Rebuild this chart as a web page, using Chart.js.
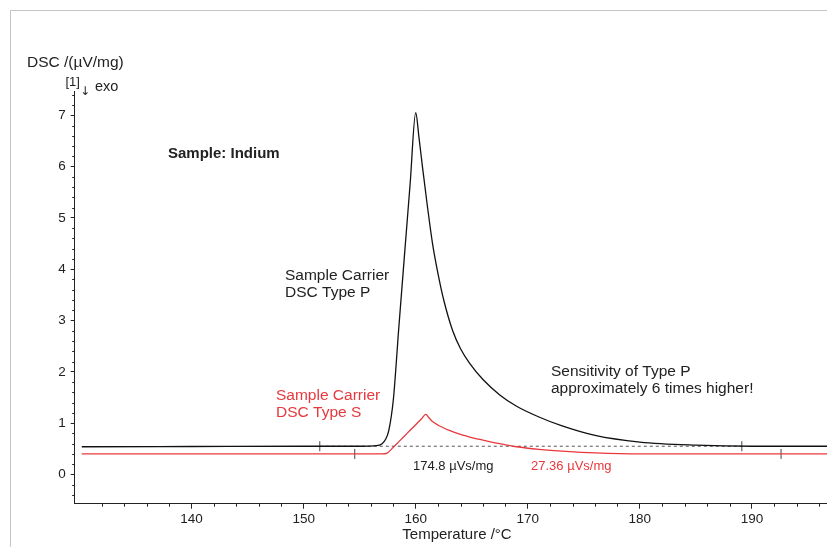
<!DOCTYPE html>
<html>
<head>
<meta charset="utf-8">
<script src="https://cdn.jsdelivr.net/npm/chart.js@4/dist/chart.umd.min.js"></script>
<style>
  html, body { margin: 0; padding: 0; background: #fff; }
  #wrap { width: 827px; height: 547px; position: relative; }
</style>
</head>
<body>
<div id="wrap"><canvas id="dsc"></canvas></div>
<script>
// temperatures (°C) and DSC signal (µV/mg)
var typePTemp = [130.2, 140, 150, 155, 156.5, 157.0, 157.3, 157.6, 158.0, 158.5, 159.0, 159.5, 160.0,
                 160.3, 160.6, 161.0, 161.5, 162.0, 162.5, 163.3, 164.0, 164.8, 166.0, 167.5, 169.0,
                 171.0, 173.0, 176.0, 180.0, 185.0, 190.0, 197.0];
var typePSignal = [0.54, 0.545, 0.55, 0.55, 0.56, 0.60, 0.68, 0.86, 1.45, 2.89, 4.28, 5.66, 7.05,
                   6.55, 6.00, 5.30, 4.50, 3.90, 3.40, 2.80, 2.45, 2.17, 1.85, 1.55, 1.33,
                   1.12, 0.95, 0.76, 0.63, 0.57, 0.55, 0.55];

var typeSTemp = [130.2, 150, 157.0, 157.4, 158.0, 158.5, 159.0, 159.5, 160.0, 160.5, 160.9, 161.2,
                 161.5, 162.0, 163.0, 164.0, 165.0, 166.0, 167.5, 169.0, 171.0, 173.4, 176.0, 180.0,
                 190.0, 197.0];
var typeSSignal = [0.40, 0.40, 0.40, 0.41, 0.53, 0.64, 0.75, 0.86, 0.97, 1.08, 1.17, 1.10,
                   1.03, 0.96, 0.86, 0.78, 0.72, 0.67, 0.60, 0.54, 0.49, 0.45, 0.42, 0.40,
                   0.40, 0.40];

// integration limits (°C) and baseline levels
var typePLimits = [151.44, 189.1];
var typePBase = [0.55, 0.55];
var typeSLimits = [154.56, 192.6];
var typeSBase = [0.40, 0.40];

var xTickValues = [140, 150, 160, 170, 180, 190];
var yTickValues = [0, 1, 2, 3, 4, 5, 6, 7];

var xRange = [129.57, 196.7];
var yRange = [-0.57, 7.46];

var RED = '#e8383d';
var INK = '#222';
var FONT = '"Liberation Sans", Arial, sans-serif';

function pairs(xs, ys) {
    return xs.map(function (x, i) { return {x: x, y: ys[i]}; });
}

var decorations = {
    id: 'decorations',
    beforeDraw: function (chart) {
        var ctx = chart.ctx;
        ctx.save();
        ctx.strokeStyle = '#c4c4c4';
        ctx.lineWidth = 1;
        ctx.beginPath();
        ctx.moveTo(10.5, 547);
        ctx.lineTo(10.5, 10.5);
        ctx.lineTo(827, 10.5);
        ctx.stroke();
        ctx.restore();
    },
    afterDraw: function (chart) {
        var ctx = chart.ctx;
        var xs = chart.scales.x, ys = chart.scales.y;
        var area = chart.chartArea;
        ctx.save();
        // minor ticks
        ctx.strokeStyle = INK;
        ctx.lineWidth = 1;
        ctx.beginPath();
        for (var t = 130; t <= 196; t += 2) {
            if (t % 10 === 0) continue;
            var px = Math.round(xs.getPixelForValue(t)) + 0.5;
            ctx.moveTo(px, area.bottom);
            ctx.lineTo(px, area.bottom + 3);
        }
        for (var k = -2; k <= 37; k++) {
            if (k % 5 === 0) continue;
            var py = Math.round(ys.getPixelForValue(k / 5)) + 0.5;
            ctx.moveTo(area.left - 2.5, py);
            ctx.lineTo(area.left, py);
        }
        ctx.stroke();

        ctx.fillStyle = INK;
        ctx.textBaseline = 'alphabetic';
        ctx.textAlign = 'left';
        ctx.font = '15.5px ' + FONT;
        ctx.fillText('DSC /(\u00b5V/mg)', 27, 67);
        ctx.font = '13px ' + FONT;
        ctx.fillText('[1]', 65.5, 86);
        ctx.font = '12px "DejaVu Sans", sans-serif';
        ctx.fillText('\u2193', 80, 95);
        ctx.font = '14.5px ' + FONT;
        ctx.fillText('exo', 95, 91);

        ctx.font = 'bold 15px ' + FONT;
        ctx.fillText('Sample: Indium', 168, 158);

        ctx.font = '15.5px ' + FONT;
        ctx.fillText('Sample Carrier', 285, 280);
        ctx.fillText('DSC Type P', 285, 297);
        ctx.fillText('Sensitivity of Type P', 551, 376);
        ctx.fillText('approximately 6 times higher!', 551, 393);

        ctx.fillStyle = RED;
        ctx.fillText('Sample Carrier', 276, 400);
        ctx.fillText('DSC Type S', 276, 417);

        ctx.font = '13px ' + FONT;
        ctx.fillStyle = INK;
        ctx.fillText('174.8 \u00b5Vs/mg', 413, 470);
        ctx.fillStyle = RED;
        ctx.fillText('27.36 \u00b5Vs/mg', 531, 470);

        ctx.fillStyle = INK;
        ctx.textAlign = 'center';
        ctx.font = '15px ' + FONT;
        ctx.fillText('Temperature /\u00b0C', 457, 539);
        ctx.restore();
    }
};

new Chart(document.getElementById('dsc'), {
    type: 'scatter',
    data: {
        datasets: [
            {
                label: 'Type S',
                data: pairs(typeSTemp, typeSSignal),
                showLine: true,
                borderColor: RED,
                borderWidth: 1.3,
                pointRadius: 0,
                cubicInterpolationMode: 'monotone'
            },
            {
                label: 'Type P',
                data: pairs(typePTemp, typePSignal),
                showLine: true,
                borderColor: '#111',
                borderWidth: 1.3,
                pointRadius: 0,
                cubicInterpolationMode: 'monotone'
            },
            {
                label: 'Type P baseline',
                data: pairs(typePLimits, typePBase),
                showLine: true,
                borderColor: '#555',
                borderWidth: 1,
                borderDash: [3, 3],
                pointStyle: 'line',
                rotation: 90,
                pointRadius: 5,
                pointBorderColor: '#444',
                pointBorderWidth: 1
            },
            {
                label: 'Type S baseline',
                data: pairs(typeSLimits, typeSBase),
                showLine: false,
                pointStyle: 'line',
                rotation: 90,
                pointRadius: 5,
                pointBorderColor: '#444',
                pointBorderWidth: 1
            }
        ]
    },
    options: {
        responsive: true,
        maintainAspectRatio: false,
        animation: false,
        layout: { autoPadding: false, padding: { top: 91.7, left: 0, right: 0, bottom: 0 } },
        plugins: {
            legend: { display: false },
            tooltip: { enabled: false }
        },
        scales: {
            x: {
                type: 'linear',
                min: xRange[0],
                max: xRange[1],
                afterBuildTicks: function (scale) {
                    scale.ticks = xTickValues.map(function (v) { return {value: v}; });
                },
                afterFit: function (scale) {
                    scale.height = 43.3;
                    scale.paddingLeft = 0;
                    scale.paddingRight = 0;
                },
                grid: { display: true, drawOnChartArea: false, drawTicks: true, tickLength: 5, color: INK },
                border: { display: true, color: INK, width: 1 },
                ticks: { color: INK, font: { family: FONT, size: 13.5 }, padding: 2, maxRotation: 0 }
            },
            y: {
                type: 'linear',
                min: yRange[0],
                max: yRange[1],
                afterBuildTicks: function (scale) {
                    scale.ticks = yTickValues.map(function (v) { return {value: v}; });
                },
                afterFit: function (scale) {
                    scale.width = 74.7;
                    scale.paddingTop = 0;
                    scale.paddingBottom = 0;
                },
                grid: { display: true, drawOnChartArea: false, drawTicks: true, tickLength: 4, color: INK },
                border: { display: true, color: INK, width: 1 },
                ticks: { color: INK, font: { family: FONT, size: 13.5 }, padding: 5 }
            }
        }
    },
    plugins: [decorations]
});
</script>
</body>
</html>
